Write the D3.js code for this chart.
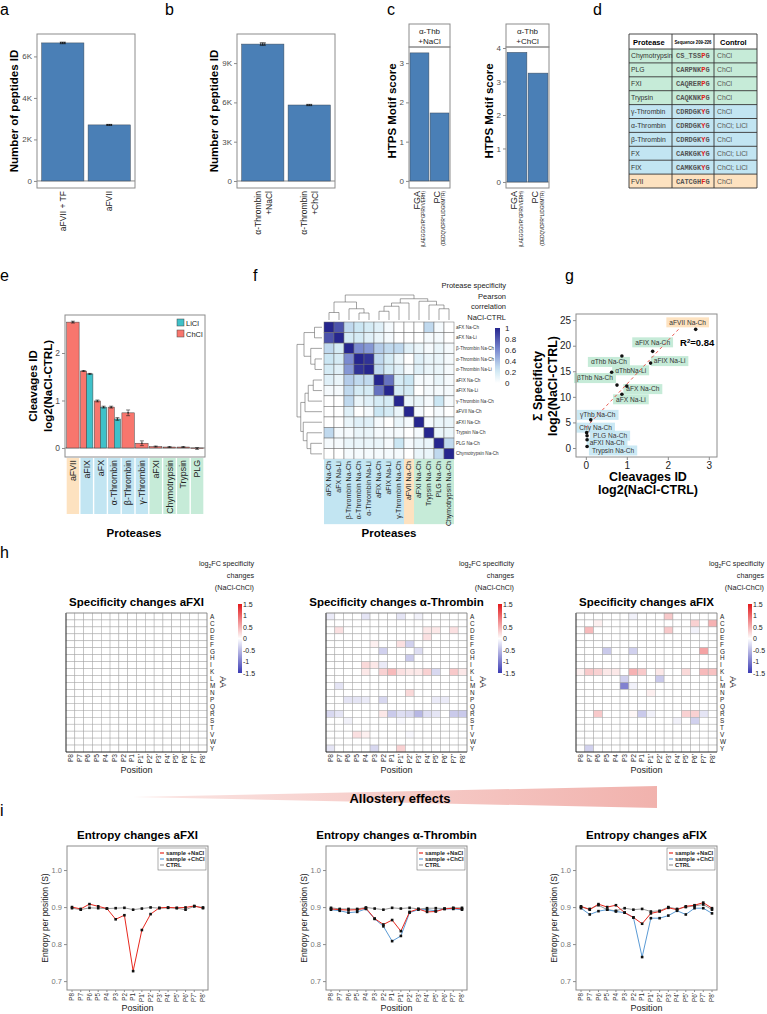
<!DOCTYPE html>
<html><head><meta charset="utf-8">
<script src="https://d3js.org/d3.v7.min.js"></script>
<style>
body{margin:0;background:#fff;}
svg{display:block;font-family:"Liberation Sans",Arial,Helvetica,sans-serif;}
</style></head><body>
<script>
// ================= DATA =================
const aCats=["aFVII + TF","aFVII"];
const aVals=[6650,2700];
const aErr=[40,25];
const bCats=["α-Thrombin|+NaCl","α-Thrombin|+ChCl"];
const bVals=[10450,5800];
const bErr=[110,50];
const cFacets=["α-Thb|+NaCl","α-Thb|+ChCl"];
const cCats=["FGA","PC"];
const cSeqs=["(LAEGGGVR*GPRVVERH)","(DEDQVDPR*LIDGKMTR)"];
const cNaCl=[3.26,1.73];
const cChCl=[3.87,3.25];
const dHeader=["Protease","Sequence 209-226","Control"];
const dProteases=["Chymotrypsin","PLG","FXI","Trypsin","γ-Thrombin","α-Thrombin","β-Thrombin","FX","FIX","FVII"];
const dSeqs=["CS_TSSPG","CARPNKPG","CAQRERPG","CAQKNKPG","CDRDGKYG","CDRDGKYG","CDRDGKYG","CARKGKYG","CAMKGKYG","CATCGHFG"];
const dControls=["ChCl","ChCl","ChCl","ChCl","ChCl","ChCl; LiCl","ChCl","ChCl; LiCl","ChCl; LiCl","ChCl"];
const dGroups=["g","g","g","g","b","b","b","b","b","o"];
const eCats=["aFVII","aFIX","aFX","α-Thrombin","β-Thrombin","γ-Thrombin","aFXI","Chymotrypsin","Trypsin","PLG"];
const eGroups=["o","b","b","b","b","b","g","g","g","g"];
const eChCl=[2.65,1.62,0.99,0.86,0.74,0.10,0.03,0.02,0.02,-0.01];
const eLiCl=[null,1.56,0.86,0.61,null,null,null,null,null,null];
const eErrCh=[0.02,0.01,0.02,0.02,0.06,0.05,0.01,0.01,0.01,0.02];
const eErrLi=[null,0.01,0.02,0.03,null,null,null,null,null,null];
const fLabels=["aFX Na-Ch","aFX Na-Li","β-Thrombin Na-Ch","α-Thrombin Na-Ch","α-Thrombin Na-Li","aFIX Na-Ch","aFIX Na-Li","γ-Thrombin Na-Ch","aFVII Na-Ch","aFXI Na-Ch","Trypsin Na-Ch","PLG Na-Ch","Chymotrypsin Na-Ch"];
const fGroups=["b","b","b","b","b","b","b","b","o","g","g","g","g"];
const fCorr=[
[1.00,0.82,0.30,0.25,0.20,0.15,0.05,0.00,0.00,0.00,0.30,0.05,0.00],
[0.82,1.00,0.20,0.20,0.15,0.10,0.05,0.00,0.00,0.00,0.05,0.05,0.00],
[0.30,0.20,1.00,0.60,0.55,0.35,0.30,0.30,0.15,0.10,0.05,0.10,0.05],
[0.25,0.20,0.60,1.00,0.95,0.30,0.20,0.10,0.00,0.15,0.10,0.10,0.05],
[0.20,0.15,0.55,0.95,1.00,0.30,0.20,0.15,0.05,0.15,0.10,0.10,0.05],
[0.15,0.10,0.35,0.30,0.30,1.00,0.70,0.20,0.25,0.05,0.05,0.10,0.05],
[0.05,0.05,0.30,0.20,0.20,0.70,1.00,0.20,0.20,0.00,0.05,0.05,0.05],
[0.00,0.00,0.30,0.10,0.15,0.20,0.20,1.00,0.10,0.10,0.05,0.25,0.05],
[0.00,0.00,0.15,0.00,0.05,0.25,0.20,0.10,1.00,0.05,0.00,0.05,0.00],
[0.00,0.00,0.10,0.15,0.15,0.05,0.00,0.10,0.05,1.00,0.05,0.10,0.10],
[0.30,0.05,0.05,0.10,0.10,0.05,0.05,0.05,0.00,0.05,1.00,0.10,0.10],
[0.05,0.05,0.10,0.10,0.10,0.10,0.05,0.25,0.05,0.10,0.10,1.00,0.30],
[0.00,0.00,0.05,0.05,0.05,0.05,0.05,0.05,0.00,0.10,0.10,0.30,1.00]];
// dendrogram: [height, left, right], leaves are indices
const fTree=[1.0,[0.72,[0.3,0,1],[0.45,2,[0.28,3,4]]],[0.85,[0.68,[0.55,[0.35,5,6],7],8],[0.75,9,[0.6,10,[0.45,11,12]]]]];
const fLegendTicks=[0,0.2,0.4,0.6,0.8,1];
const gNames=["aFVII Na-Ch","aFIX Na-Ch","aFIX Na-Li","αThb Na-Ch","αThbNa-Li","βThb  Na-Ch","aFX Na-Ch","aFX Na-Li","γThb Na-Ch","Chy Na-Ch","PLG Na-Ch","aFXI Na-Ch","Trypsin Na-Ch"];
const gX=[2.68,1.63,1.58,0.88,0.63,0.76,1.00,0.88,0.12,0.02,0.03,0.03,0.03];
const gY=[23.2,18.9,16.6,18.0,14.8,12.3,12.1,10.5,5.5,3.0,2.4,1.6,0.3];
const gGroups=["o","g","g","g","g","g","g","g","b","b","b","b","b"];
const hPos=["P8","P7","P6","P5","P4","P3","P2","P1","P1'","P2'","P3'","P4'","P5'","P6'","P7'","P8'"];
const hAA=["A","C","D","E","F","G","H","I","K","L","M","N","P","Q","R","S","T","V","W","Y"];
const hLegendTicks=[1.5,1,0.5,0,-0.5,-1,-1.5];
const hFXI=[];
const hThr=[
["A","P8",-0.15],["A","P4",-0.2],["A","P1'",-0.2],["A","P3'",-0.1],
["D","P7",0.2],["D","P4'",0.15],["D","P5'",0.15],["D","P7'",0.2],
["E","P4'",0.2],
["F","P3",0.1],["F","P1'",0.2],["F","P2'",-0.35],
["G","P2",-0.35],["G","P3'",-0.25],
["H","P2'",-0.4],
["I","P4",0.25],["I","P3",0.15],["I","P2",-0.15],
["K","P4",0.15],["K","P2",0.3],["K","P1",0.45],["K","P1'",0.2],["K","P2'",0.15],["K","P3'",0.15],["K","P4'",0.3],["K","P5'",-0.3],["K","P7'",0.35],["K","P8'",0.15],
["M","P7",-0.2],
["N","P2'",0.25],
["P","P6",-0.2],["P","P5",-0.2],["P","P4",-0.15],["P","P2",-0.3],["P","P5'",-0.15],["P","P6'",-0.15],
["R","P8",-0.3],["R","P7",-0.2],["R","P2",0.15],["R","P1",-0.4],["R","P1'",-0.25],["R","P2'",-0.3],["R","P3'",-0.55],["R","P4'",-0.25],["R","P5'",-0.2],["R","P7'",-0.4],["R","P8'",-0.4],
["S","P6",-0.1],["S","P1'",-0.05],
["V","P5",0.2],["V","P4",0.1],["V","P2'",-0.05],
["Y","P8",-0.2],["Y","P3",-0.3],["Y","P1'",0.3]];
const hFIX=[
["A","P2",-0.1],["A","P3'",0.35],
["C","P6",0.1],["C","P6'",0.3],["C","P8'",0.5],
["D","P7",0.45],["D","P3'",0.35],["D","P6'",-0.1],
["G","P5",-0.4],["G","P2",-0.35],["G","P7'",0.6],
["K","P8",0.1],["K","P7",0.35],["K","P6",0.3],["K","P5",0.15],["K","P4",0.15],["K","P2",0.5],["K","P1",0.35],["K","P2'",0.15],["K","P5'",0.25],["K","P7'",0.45],["K","P8'",0.4],
["L","P3",-0.35],["L","P2'",-0.4],
["M","P3",-0.95],["M","P2",-0.1],
["N","P1'",0.1],
["R","P6",0.35],["R","P2",0.05],["R","P1",-0.4],["R","P1'",-0.1],["R","P5'",0.3],["R","P6'",0.3],["R","P7'",-0.2],
["S","P4'",-0.1],["S","P6'",-0.35],
["Y","P7",-0.35]];
const iSeries=["sample +NaCl","sample +ChCl","CTRL"];
const iTicks=[0.7,0.8,0.9,1.0];
const iFXI_NaCl=[0.900,0.895,0.908,0.902,0.896,0.867,0.878,0.727,0.838,0.881,0.898,0.899,0.898,0.899,0.903,0.897];
const iFXI_ChCl=[];
const iFXI_CTRL=[0.897,0.893,0.898,0.897,0.896,0.897,0.898,0.893,0.896,0.899,0.897,0.898,0.897,0.893,0.902,0.899];
const iThr_NaCl=[0.895,0.893,0.892,0.893,0.897,0.869,0.853,0.865,0.835,0.887,0.895,0.887,0.888,0.895,0.897,0.895];
const iThr_ChCl=[0.893,0.890,0.885,0.887,0.895,0.868,0.848,0.808,0.822,0.885,0.893,0.893,0.890,0.895,0.895,0.893];
const iThr_CTRL=[0.898,0.895,0.895,0.895,0.899,0.896,0.893,0.898,0.896,0.898,0.895,0.897,0.897,0.896,0.898,0.898];
const iFIX_NaCl=[0.902,0.893,0.908,0.900,0.905,0.885,0.872,0.855,0.883,0.888,0.898,0.893,0.902,0.905,0.912,0.897];
const iFIX_ChCl=[0.897,0.880,0.889,0.893,0.888,0.885,0.872,0.765,0.870,0.870,0.877,0.890,0.880,0.897,0.897,0.883];
const iFIX_CTRL=[0.900,0.895,0.905,0.893,0.890,0.897,0.893,0.895,0.888,0.890,0.900,0.895,0.900,0.903,0.907,0.893];

// ================= STYLE =================
const GRAY="#4d4d4d", FR="#8c8c8c", BAR="#4a7fb6";
const GF={g:"#c6ebd8",b:"#c2e5f2",o:"#fde2c0"};
const svg=d3.select("body").append("svg").attr("width",767).attr("height",1014);

function T(x,y,s,o={}){
  const t=svg.append("text").attr("x",x).attr("y",y).text(s)
    .attr("font-size",o.size||9).attr("fill",o.fill||"#000")
    .attr("text-anchor",o.anchor||"start");
  if(o.bold) t.attr("font-weight","bold");
  if(o.rot!==undefined) t.attr("transform",`rotate(${o.rot},${x},${y})`);
  if(o.family) t.attr("font-family",o.family);
  if(o.dy) t.attr("dy",o.dy);
  if(o.stretch) t.attr("textLength",o.stretch).attr("lengthAdjust","spacingAndGlyphs");
  return t;
}
function frame(L,Tp,R,B,col,w){
  svg.append("rect").attr("x",L).attr("y",Tp).attr("width",R-L).attr("height",B-Tp)
   .attr("fill","none").attr("stroke",col||FR).attr("stroke-width",w||1);
}
function yAxis(scale,x,vals,fmt,size,col){
  const g=svg.append("g").attr("transform",`translate(${x},0)`)
    .call(d3.axisLeft(scale).tickValues(vals).tickFormat(fmt).tickSize(3).tickPadding(2));
  g.attr("font-family",null);
  g.select(".domain").remove();
  g.selectAll("line").attr("stroke",FR);
  g.selectAll("text").attr("fill",col||GRAY).attr("font-size",size||8);
  return g;
}
function xAxis(scale,y,vals,fmt,size){
  const g=svg.append("g").attr("transform",`translate(0,${y})`)
    .call(d3.axisBottom(scale).tickValues(vals).tickFormat(fmt).tickSize(3).tickPadding(2));
  g.attr("font-family",null);
  g.select(".domain").remove();
  g.selectAll("line").attr("stroke",FR);
  g.selectAll("text").attr("fill",GRAY).attr("font-size",size||8);
  return g;
}
function bars(x,y,cats,vals,errs,L,R){
  svg.append("line").attr("x1",L).attr("x2",R).attr("y1",y(0)).attr("y2",y(0)).attr("stroke",FR);
  svg.append("g").selectAll("rect").data(cats).join("rect")
    .attr("x",d=>x(d)).attr("y",(d,i)=>y(vals[i])).attr("width",x.bandwidth())
    .attr("height",(d,i)=>y(0)-y(vals[i])).attr("fill",BAR).attr("stroke","#3c4a5a").attr("stroke-width",0.5);
  cats.forEach((c,i)=>{
    const cx=x(c)+x.bandwidth()/2, y1=y(vals[i]-errs[i]), y2=y(vals[i]+errs[i]);
    svg.append("path").attr("d",`M${cx-3},${y1}H${cx+3}M${cx},${y1}V${y2}M${cx-3},${y2}H${cx+3}`).attr("stroke","#111").attr("stroke-width",0.6).attr("fill","none");
    [-2,0,2].forEach(dx=>svg.append("circle").attr("cx",cx+dx).attr("cy",y(vals[i])).attr("r",0.8).attr("fill","#111"));
  });
}

// panel letters
[["a",0,15],["b",165,15],["c",387,15],["d",593,15],["e",0,281],["f",253,281],["g",565,281],["h",0,558],["i",0,816]]
 .forEach(d=>T(d[1],d[2],d[0],{size:16}));

// ================= a =================
{
  const L=37,R=135,Tp=34,B=188;
  const x=d3.scaleBand().domain(aCats).range([L,R]).paddingInner(0.09).paddingOuter(0.1);
  const y=d3.scaleLinear().domain([-340,7080]).range([B,Tp]);
  bars(x,y,aCats,aVals,aErr,L,R);
  frame(L,Tp,R,B);
  yAxis(y,L,[0,2000,4000,6000],d=>d===0?"0":(d/1000)+"K",8);
  aCats.forEach(c=>T(x(c)+x.bandwidth()/2,191,c,{size:8.5,anchor:"end",rot:-90,dy:"0.35em",fill:"#222"}));
  T(14,111,"Number of peptides ID",{size:11.5,bold:true,anchor:"middle",rot:-90,dy:"0.35em"});
}
// ================= b =================
{
  const L=237,R=335,Tp=34,B=188;
  const x=d3.scaleBand().domain(bCats).range([L,R]).paddingInner(0.09).paddingOuter(0.1);
  const y=d3.scaleLinear().domain([-534,11220]).range([B,Tp]);
  bars(x,y,bCats,bVals,bErr,L,R);
  frame(L,Tp,R,B);
  yAxis(y,L,[0,3000,6000,9000],d=>d===0?"0":(d/1000)+"K",8);
  bCats.forEach(c=>{const p=c.split("|"),cx=x(c)+x.bandwidth()/2;
    T(cx-5,191,p[0],{size:8.5,anchor:"end",rot:-90,dy:"0.35em",fill:"#222"});
    T(cx+6,191,p[1],{size:8.5,anchor:"end",rot:-90,dy:"0.35em",fill:"#222"});});
  T(214,111,"Number of peptides ID",{size:11.5,bold:true,anchor:"middle",rot:-90,dy:"0.35em"});
}
// ================= c =================
function cFacet(L,R,vals,dom,ticks,label,titleX){
  const Tp=47,B=188,ST=24;
  const x=d3.scaleBand().domain(cCats).range([L,R]).paddingInner(0.06).paddingOuter(0.05);
  const y=d3.scaleLinear().domain(dom).range([B,Tp]);
  svg.append("line").attr("x1",L).attr("x2",R).attr("y1",y(0)).attr("y2",y(0)).attr("stroke",FR);
  svg.append("g").selectAll("rect").data(cCats).join("rect")
    .attr("x",d=>x(d)).attr("y",(d,i)=>y(vals[i])).attr("width",x.bandwidth())
    .attr("height",(d,i)=>y(0)-y(vals[i])).attr("fill",BAR).attr("stroke","#3c4a5a").attr("stroke-width",0.5);
  frame(L,Tp,R,B);
  frame(L,ST,R,Tp);
  const p=label.split("|");
  T((L+R)/2,34,p[0],{size:8,anchor:"middle",fill:"#222"});
  T((L+R)/2,44,p[1],{size:8,anchor:"middle",fill:"#222"});
  yAxis(y,L,ticks,d3.format("d"),8);
  cCats.forEach((c,i)=>{const cx=x(c)+x.bandwidth()/2;
    T(cx-3,191,c,{size:9,anchor:"end",rot:-90,dy:"0.35em",fill:"#222"});
    T(cx+4,191,cSeqs[i],{size:4.6,anchor:"end",rot:-90,dy:"0.35em",fill:"#222"});});
  T(titleX,111,"HTPS Motif score",{size:11.5,bold:true,anchor:"middle",rot:-90,dy:"0.35em"});
}
cFacet(409,450,cNaCl,[-0.18,3.41],[0,1,2,3],cFacets[0],392);
cFacet(506,549,cChCl,[-0.18,4.03],[0,1,2,3,4],cFacets[1],489);

// ================= d =================
{
  const cols=[629,672,714,757], top=34, hh=15, rh=13.9;
  svg.append("rect").attr("x",cols[0]).attr("y",top).attr("width",cols[3]-cols[0]).attr("height",hh).attr("fill","#fff");
  dProteases.forEach((p,i)=>{
    svg.append("rect").attr("x",cols[0]).attr("y",top+hh+i*rh).attr("width",cols[3]-cols[0]).attr("height",rh).attr("fill",GF[dGroups[i]]);
  });
  T(cols[0]+4,top+10.5,dHeader[0],{size:7.5,bold:true});
  T((cols[1]+cols[2])/2,top+10,dHeader[1],{size:5.6,bold:true,anchor:"middle",stretch:37});
  T(cols[2]+6,top+10.5,dHeader[2],{size:7.5,bold:true});
  dProteases.forEach((p,i)=>{
    const yy=top+hh+i*rh+rh/2+2.5;
    T(cols[0]+2,yy,p,{size:6.8,fill:"#333"});
    const t=svg.append("text").attr("x",cols[1]+4).attr("y",yy).attr("font-size",7)
      .attr("font-family","'Liberation Mono','Courier New',monospace").attr("font-weight","bold");
    dSeqs[i].split("").forEach((ch,k)=>t.append("tspan").text(ch).attr("fill",k===6?"#e0201a":"#555"));
    T(cols[2]+3,yy,dControls[i],{size:6.8,fill:"#555"});
  });
  const bot=top+hh+dProteases.length*rh;
  const lines=svg.append("g").attr("stroke","#333").attr("stroke-width",0.9);
  for(let i=0;i<=dProteases.length;i++){const yy=top+hh+i*rh;lines.append("line").attr("x1",cols[0]).attr("x2",cols[3]).attr("y1",yy).attr("y2",yy);}
  lines.append("line").attr("x1",cols[0]).attr("x2",cols[3]).attr("y1",top).attr("y2",top);
  cols.forEach(c=>lines.append("line").attr("x1",c).attr("x2",c).attr("y1",top).attr("y2",bot));
}

// ================= e =================
{
  const L=65,R=205,Tp=315,B=457;
  const x=d3.scaleBand().domain(eCats).range([L+1,R-1]).paddingInner(0.1).paddingOuter(0.05);
  const y=d3.scaleLinear().domain([-0.19,2.8]).range([B,Tp]);
  const bw=x.bandwidth();
  eCats.forEach((c,i)=>{
    svg.append("rect").attr("x",x(c)).attr("y",B+1).attr("width",bw).attr("height",56).attr("fill",GF[eGroups[i]]);
    T(x(c)+bw/2,B+3,c,{size:8.8,anchor:"end",rot:-90,dy:"0.35em",fill:"#222"});
  });
  svg.append("line").attr("x1",L).attr("x2",R).attr("y1",y(0)).attr("y2",y(0)).attr("stroke",FR);
  eCats.forEach((c,i)=>{
    const two=eLiCl[i]!==null, w=two?bw/2:bw;
    const items=[[x(c),eChCl[i],eErrCh[i],"#f8766d"]];
    if(two) items.push([x(c)+bw/2,eLiCl[i],eErrLi[i],"#3fc1c9"]);
    items.forEach(it=>{
      const v=it[1];
      svg.append("rect").attr("x",it[0]).attr("y",Math.min(y(v),y(0))).attr("width",w).attr("height",Math.abs(y(0)-y(v)))
        .attr("fill",it[3]).attr("stroke","#444").attr("stroke-width",0.5);
      const cx=it[0]+w/2,y1=y(v-it[2]),y2=y(v+it[2]);
      svg.append("path").attr("d",`M${cx-2},${y1}H${cx+2}M${cx},${y1}V${y2}M${cx-2},${y2}H${cx+2}`).attr("stroke","#222").attr("stroke-width",0.6).attr("fill","none");
      svg.append("circle").attr("cx",cx).attr("cy",y(v)).attr("r",0.8).attr("fill","#222");
    });
  });
  frame(L,Tp,R,B);
  yAxis(y,L,[0,1,2],d3.format("d"),8.5);
  T(33,386,"Cleavages ID",{size:11.5,bold:true,anchor:"middle",rot:-90,dy:"0.35em"});
  T(48,386,"log2(NaCl-CTRL)",{size:11.5,bold:true,anchor:"middle",rot:-90,dy:"0.35em"});
  svg.append("rect").attr("x",177).attr("y",319).attr("width",7).attr("height",7).attr("fill","#3fc1c9").attr("stroke","#444").attr("stroke-width",0.5);
  svg.append("rect").attr("x",177).attr("y",330).attr("width",7).attr("height",7).attr("fill","#f8766d").attr("stroke","#444").attr("stroke-width",0.5);
  T(186,325.5,"LiCl",{size:7.5,fill:"#222"});
  T(186,336.5,"ChCl",{size:7.5,fill:"#222"});
  T(134,537,"Proteases",{size:11.5,bold:true,anchor:"middle"});
}

// ================= f =================
{
  const L=324,Tp=322,cw=10,ch=10.55,n=fLabels.length;
  const xs=d3.scaleBand().domain(d3.range(n)).range([L,L+n*cw]);
  const ys=d3.scaleBand().domain(d3.range(n)).range([Tp,Tp+n*ch]);
  const col=d3.scaleLinear().domain([0,0.25,0.6,1]).range(["#ffffff","#cbe6f3","#7b8bd0","#26268e"]);
  const cells=[];
  fCorr.forEach((r,i)=>r.forEach((v,j)=>cells.push({i,j,v})));
  svg.append("g").selectAll("rect").data(cells).join("rect")
    .attr("x",d=>xs(d.j)).attr("y",d=>ys(d.i)).attr("width",cw).attr("height",ch)
    .attr("fill",d=>col(d.v)).attr("stroke","#6b6b6b").attr("stroke-width",0.5);
  const B=Tp+n*ch;
  fLabels.forEach((lab,i)=>{
    T(L+n*cw+2,ys(i)+ch/2+1.6,lab,{size:4.6,fill:"#333"});
    svg.append("rect").attr("x",xs(i)).attr("y",B).attr("width",cw).attr("height",65).attr("fill",GF[fGroups[i]]);
    T(xs(i)+cw/2,B+2,lab,{size:7,anchor:"end",rot:-90,dy:"0.35em",fill:"#222"});
  });
  const hTop=d3.scaleLinear().domain([0,1]).range([Tp-2,295]);
  const hLeft=d3.scaleLinear().domain([0,1]).range([L-2,297]);
  const dg=svg.append("g").attr("stroke","#666").attr("stroke-width",0.6).attr("fill","none");
  function walk(node,posFn,draw){
    if(typeof node==="number") return {p:posFn(node),h:0};
    const a=walk(node[1],posFn,draw), b=walk(node[2],posFn,draw), h=node[0];
    draw(a.p,a.h,b.p,b.h,h);
    return {p:(a.p+b.p)/2,h};
  }
  walk(fTree,k=>xs(k)+cw/2,(p1,h1,p2,h2,h)=>dg.append("path").attr("d",`M${p1},${hTop(h1)}V${hTop(h)}H${p2}V${hTop(h2)}`));
  walk(fTree,k=>ys(k)+ch/2,(p1,h1,p2,h2,h)=>dg.append("path").attr("d",`M${hLeft(h1)},${p1}H${hLeft(h)}V${p2}H${hLeft(h2)}`));
  ["Protease specificity","Pearson","correlation","NaCl-CTRL"].forEach((s,k)=>T(506,288+k*10.5,s,{size:7.5,anchor:"end",fill:"#222"}));
  const defs=svg.append("defs");
  const gr=defs.append("linearGradient").attr("id","fgrad").attr("x1",0).attr("y1",1).attr("x2",0).attr("y2",0);
  d3.range(0,1.01,0.1).forEach(t=>gr.append("stop").attr("offset",t).attr("stop-color",col(t)));
  const ly=d3.scaleLinear().domain([0,1]).range([383,328]);
  svg.append("rect").attr("x",495).attr("y",328).attr("width",5).attr("height",55).attr("fill","url(#fgrad)");
  fLegendTicks.forEach(t=>T(505,ly(t)+2.8,String(t),{size:8,fill:"#222"}));
  T(389,537,"Proteases",{size:11.5,bold:true,anchor:"middle"});
}

// ================= g =================
{
  const L=576,R=717,Tp=314,B=457;
  const x=d3.scaleLinear().domain([-0.24,3.2]).range([L,R]);
  const y=d3.scaleLinear().domain([-1.76,26.2]).range([B,Tp]);
  const mx=d3.mean(gX), my=d3.mean(gY);
  const sxy=d3.sum(gX.map((v,i)=>(v-mx)*(gY[i]-my))), sxx=d3.sum(gX.map(v=>(v-mx)*(v-mx)));
  const slope=sxy/sxx, icpt=my-slope*mx;
  const off=[[-8,-7],[0,-9],[19,-2],[-13,6],[19,-2],[-22,-7],[16,3],[9,5],[7,-5],[9,-5],[23,0],[20,3],[26,4]];
  const lab=svg.append("g");
  gNames.forEach((nm,i)=>{
    const cx=x(gX[i])+off[i][0], cy=y(gY[i])+off[i][1];
    const g=lab.append("g");
    const r=g.append("rect");
    const t=g.append("text").attr("x",cx).attr("y",cy+2.3).attr("text-anchor","middle").attr("font-size",6.6).attr("fill","#333").text(nm);
    const w=t.node().getComputedTextLength()+6;
    r.attr("x",cx-w/2).attr("y",cy-5).attr("width",w).attr("height",10).attr("fill",GF[gGroups[i]]).attr("fill-opacity",gGroups[i]==="b"?0.85:1);
  });
  svg.append("line").attr("x1",x(0)).attr("x2",x(2.3)).attr("y1",y(icpt)).attr("y2",y(icpt+slope*2.3))
    .attr("stroke","#e8463c").attr("stroke-width",0.9).attr("stroke-dasharray","3,3");
  svg.append("g").selectAll("circle").data(gX).join("circle").attr("cx",d=>x(d)).attr("cy",(d,i)=>y(gY[i])).attr("r",1.8).attr("fill","#111");
  frame(L,Tp,R,B);
  yAxis(y,L,[0,5,10,15,20,25],d3.format("d"),10,"#222");
  xAxis(x,B,[0,1,2,3],d3.format("d"),10).selectAll("text").attr("fill","#222");
  const rt=svg.append("text").attr("x",680).attr("y",346).attr("font-size",9.5).attr("font-weight","bold");
  rt.append("tspan").text("R");rt.append("tspan").text("2").attr("font-size",6).attr("dy",-3.5);rt.append("tspan").text("=0.84").attr("dy",3.5);
  T(538,386,"Σ Specificty",{size:12.5,bold:true,anchor:"middle",rot:-90,dy:"0.35em"});
  T(553,386,"log2(NaCl-CTRL)",{size:12.5,bold:true,anchor:"middle",rot:-90,dy:"0.35em"});
  T(648,481,"Cleavages ID",{size:12.5,bold:true,anchor:"middle"});
  T(648,494,"log2(NaCl-CTRL)",{size:12.5,bold:true,anchor:"middle"});
}

// ================= h =================
const hCol=d3.scaleLinear().domain([-1.5,0,1.5]).range(["#3a3ab4","#ffffff","#e3191c"]);
{
  const gr=svg.append("defs").append("linearGradient").attr("id","hgrad").attr("x1",0).attr("y1",1).attr("x2",0).attr("y2",0);
  d3.range(-1.5,1.51,0.25).forEach(v=>gr.append("stop").attr("offset",(v+1.5)/3).attr("stop-color",hCol(v)));
}
function heat(L,title,data){
  const R=L+141,Tp=613,B=752;
  const x=d3.scaleBand().domain(hPos).range([L,R]);
  const y=d3.scaleBand().domain(hAA).range([Tp,B]);
  const lookup=new Map(data.map(d=>[d[0]+"|"+d[1],d[2]]));
  const cells=[];
  hAA.forEach(a=>hPos.forEach(p=>cells.push({a,p,v:lookup.get(a+"|"+p)||0})));
  svg.append("g").selectAll("rect").data(cells).join("rect")
    .attr("x",d=>x(d.p)).attr("y",d=>y(d.a)).attr("width",x.bandwidth()).attr("height",y.bandwidth())
    .attr("fill",d=>hCol(d.v)).attr("stroke","#a8a8a8").attr("stroke-width",0.5);
  svg.append("path").attr("d",`M${L},${Tp}V${B}H${R}`).attr("stroke","#222").attr("fill","none").attr("stroke-width",0.9);
  svg.append("path").attr("d",`M${L},${Tp}H${R}V${B}`).attr("stroke","#777").attr("fill","none").attr("stroke-width",0.6);
  hAA.forEach(a=>T(R+3,y(a)+y.bandwidth()/2+2.3,a,{size:6.4,fill:"#222"}));
  hPos.forEach(p=>T(x(p)+x.bandwidth()/2,B+2,p,{size:6.6,anchor:"end",rot:-90,dy:"0.35em",fill:"#222"}));
  T((L+R)/2,773,"Position",{size:9,anchor:"middle",fill:"#222"});
  T(R+16,682,"AA",{size:8.5,anchor:"middle",rot:90,dy:"0.35em",fill:"#222"});
  T((L+R)/2,606,title,{size:11.5,bold:true,anchor:"middle"});
  const cbx=R+31;
  svg.append("rect").attr("x",cbx).attr("y",604).attr("width",4).attr("height",69).attr("fill","url(#hgrad)");
  const ly=d3.scaleLinear().domain([-1.5,1.5]).range([673,604]);
  hLegendTicks.forEach(t=>T(cbx+5,ly(t)+2.5,String(t),{size:7,fill:"#222"}));
  const lt=svg.append("text").attr("x",R+47).attr("y",566).attr("text-anchor","end").attr("font-size",7.2).attr("fill","#222");
  lt.append("tspan").text("log");lt.append("tspan").text("2").attr("font-size",5).attr("dy",2);lt.append("tspan").text("FC specificity").attr("dy",-2);
  T(R+47,578,"changes",{size:7.2,anchor:"end",fill:"#222"});
  T(R+47,590,"(NaCl-ChCl)",{size:7.2,anchor:"end",fill:"#222"});
}
heat(66,"Specificity changes aFXI",hFXI);
heat(326,"Specificity changes α-Thrombin",hThr);
heat(576,"Specificity changes aFIX",hFIX);

// ================= allostery arrow =================
{
  const gr=svg.append("defs").append("linearGradient").attr("id","agrad").attr("x1",0).attr("x2",1).attr("y1",0).attr("y2",0);
  gr.append("stop").attr("offset",0).attr("stop-color","#fbe6e4");
  gr.append("stop").attr("offset",1).attr("stop-color","#f1b2ad");
  svg.append("path").attr("d","M133,797L657,786L657,808Z").attr("fill","url(#agrad)");
  T(400,803,"Allostery effects",{size:13,bold:true,anchor:"middle"});
}

// ================= i =================
function entropy(L,title,nacl,chcl,ctrl){
  const R=L+141,Tp=846,B=990;
  const x=d3.scalePoint().domain(hPos).range([L+5,R-5]);
  const y=d3.scaleLinear().domain([0.676,1.065]).range([B,Tp]);
  const line=d3.line().x((d,i)=>x(hPos[i])).y(d=>y(d));
  [[ctrl,"#9a9a9a"],[chcl,"#5b9bd5"],[nacl,"#e8281e"]].forEach(s=>{
    if(!s[0].length) return;
    svg.append("path").attr("d",line(s[0])).attr("fill","none").attr("stroke",s[1]).attr("stroke-width",1);
  });
  [ctrl,chcl,nacl].forEach(s=>s.forEach((v,i)=>svg.append("rect").attr("x",x(hPos[i])-1.3).attr("y",y(v)-1.3).attr("width",2.6).attr("height",2.6).attr("fill","#111")));
  frame(L,Tp,R,B);
  yAxis(y,L,iTicks,d3.format(".1f"),7.5,"#777");
  const xa=svg.append("g");
  hPos.forEach(p=>{xa.append("line").attr("x1",x(p)).attr("x2",x(p)).attr("y1",B).attr("y2",B+2).attr("stroke",FR);
    T(x(p),B+3,p,{size:6.3,anchor:"end",rot:-90,dy:"0.35em",fill:"#333"});});
  T((L+R)/2,1011,"Position",{size:9,anchor:"middle",fill:"#222"});
  T(L-22,918,"Entropy per position (S)",{size:8.5,anchor:"middle",rot:-90,dy:"0.35em",fill:"#222"});
  T((L+R)/2,839,title,{size:11.5,bold:true,anchor:"middle"});
  const lx=R-50,ly=848;
  svg.append("rect").attr("x",lx).attr("y",ly).attr("width",48).attr("height",22).attr("fill","#fff").attr("stroke","#777").attr("stroke-width",0.6);
  ["#e8281e","#5b9bd5","#9a9a9a"].forEach((c,k)=>{
    svg.append("line").attr("x1",lx+2).attr("x2",lx+6).attr("y1",ly+5+k*6).attr("y2",ly+5+k*6).attr("stroke",c).attr("stroke-width",1.2);
    T(lx+8,ly+7+k*6,iSeries[k],{size:5.8,bold:true,fill:"#222"});
  });
}
entropy(67,"Entropy changes aFXI",iFXI_NaCl,iFXI_ChCl,iFXI_CTRL);
entropy(326,"Entropy changes α-Thrombin",iThr_NaCl,iThr_ChCl,iThr_CTRL);
entropy(576,"Entropy changes aFIX",iFIX_NaCl,iFIX_ChCl,iFIX_CTRL);
</script>
</body></html>
